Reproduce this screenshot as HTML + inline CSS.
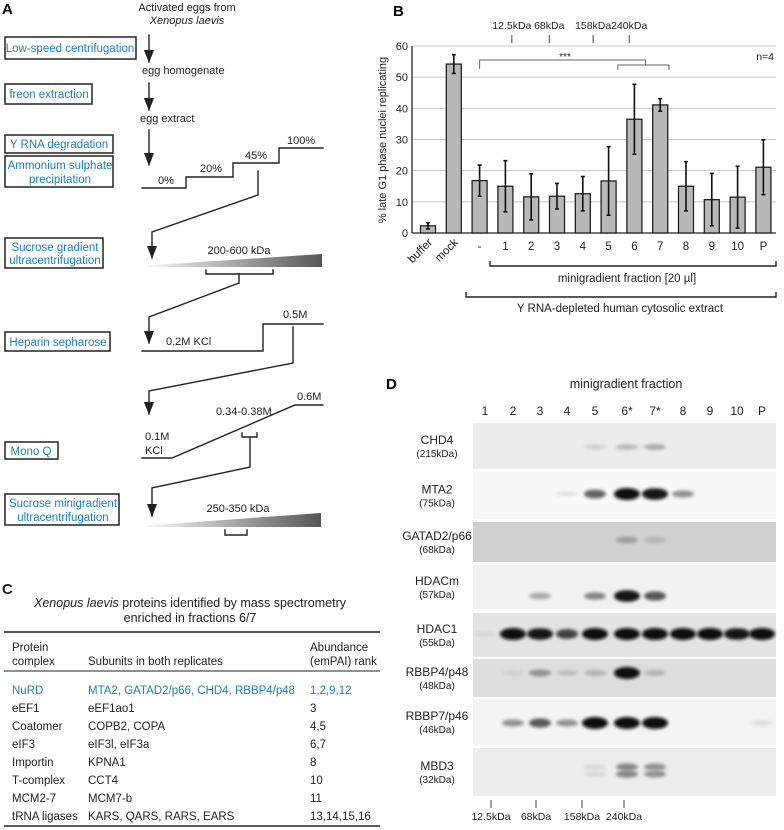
<!DOCTYPE html>
<html><head><meta charset="utf-8">
<style>
html,body{margin:0;padding:0;background:#fff}
svg{display:block;font-family:"Liberation Sans",Arial,sans-serif}
.bl{fill:#1b7ec2;font-size:11.5px}
.t{font-size:11px;fill:#222}
</style></head>
<body>
<svg id="fig" width="784" height="830" viewBox="0 0 784 830" xmlns="http://www.w3.org/2000/svg">
<defs>
<linearGradient id="grad" x1="0" x2="1" y1="0" y2="0"><stop offset="0" stop-color="#fff"/><stop offset="1" stop-color="#555"/></linearGradient>
<filter id="blur" x="-50%" y="-100%" width="200%" height="300%"><feGaussianBlur stdDeviation="1.6"/></filter>
<marker id="arr" markerWidth="14" markerHeight="10" refX="12" refY="5" orient="auto" markerUnits="userSpaceOnUse"><path d="M0,0 L13,5 L0,10 Z" fill="#222"/></marker>
</defs>

<!-- PANEL A -->
<g stroke-linecap="square">
<text x="2" y="14" font-size="15" font-weight="bold">A</text>
<text x="187" y="11" text-anchor="middle" class="t">Activated eggs from</text>
<text x="187" y="24" text-anchor="middle" class="t" font-style="italic">Xenopus laevis</text>
<g fill="#fff" stroke="#222" stroke-width="1.5">
<rect x="5" y="37" width="131" height="22"/>
<rect x="5" y="84" width="87" height="20"/>
<rect x="5" y="135" width="108" height="18"/>
<rect x="5" y="156" width="108" height="31"/>
<rect x="5" y="238" width="98" height="30"/>
<rect x="5" y="332" width="105" height="19"/>
<rect x="5" y="442" width="53" height="17"/>
<rect x="5" y="494" width="114" height="31"/>
</g>
<text x="70" y="52" text-anchor="middle" class="bl">Low-speed centrifugation</text>
<text x="49" y="98" text-anchor="middle" class="bl">freon extraction</text>
<text x="59" y="148" text-anchor="middle" class="bl">Y RNA degradation</text>
<text x="60" y="169" text-anchor="middle" class="bl">Ammonium sulphate</text>
<text x="60" y="183" text-anchor="middle" class="bl">precipitation</text>
<text x="55" y="251" text-anchor="middle" class="bl">Sucrose gradient</text>
<text x="55" y="264" text-anchor="middle" class="bl">ultracentrifugation</text>
<text x="58" y="346" text-anchor="middle" class="bl">Heparin sepharose</text>
<text x="31" y="455" text-anchor="middle" class="bl">Mono Q</text>
<text x="63" y="507" text-anchor="middle" class="bl">Sucrose minigradient</text>
<text x="63" y="521" text-anchor="middle" class="bl">ultracentrifugation</text>
<g stroke="#222" stroke-width="1.4" fill="none">
<line x1="149" y1="35" x2="149" y2="62" marker-end="url(#arr)"/>
<line x1="149" y1="83" x2="149" y2="110" marker-end="url(#arr)"/>
<line x1="149" y1="130" x2="149" y2="165" marker-end="url(#arr)"/>
<polyline points="142,188 186,188 186,177 233,177 233,163 279,163 279,148 323,148"/>
<polyline points="258,171 258,195 152,232 152,258" marker-end="url(#arr)"/>
<polyline points="206,270 206,274 273,274 273,270"/>
<polyline points="239,274 239,283 149,317 149,343" marker-end="url(#arr)"/>
<polyline points="142,351 263,351 263,324 323,324"/>
<polyline points="293,327 293,363 149,391 149,414" marker-end="url(#arr)"/>
<polyline points="142,458 172,458 295,405 323,405"/>
<polyline points="242,433 242,437 257,437 257,433"/>
<polyline points="250,437 250,467 152,488 152,516" marker-end="url(#arr)"/>
<polyline points="225,530 225,535 247,535 247,530"/>
</g>
<path d="M140,266 L322,254 L322,267 L140,267 Z" fill="url(#grad)"/>
<path d="M140,526 L321,513 L321,527 L140,527 Z" fill="url(#grad)"/>
<text x="142" y="74" class="t">egg homogenate</text>
<text x="140" y="122" class="t">egg extract</text>
<text x="158" y="184" class="t">0%</text>
<text x="200" y="172" class="t">20%</text>
<text x="245" y="159" class="t">45%</text>
<text x="287" y="144" class="t">100%</text>
<text x="239" y="254" text-anchor="middle" class="t">200-600 kDa</text>
<text x="166" y="345" class="t">0.2M KCl</text>
<text x="283" y="318" class="t">0.5M</text>
<text x="145" y="440" class="t">0.1M</text>
<text x="145" y="454" class="t">KCl</text>
<text x="216" y="415" class="t">0.34-0.38M</text>
<text x="297" y="400" class="t">0.6M</text>
<text x="238" y="512" text-anchor="middle" class="t">250-350 kDa</text>
</g>

<!-- PANEL C -->
<g font-size="11.5" fill="#222">
<text x="2" y="594" font-size="15" font-weight="bold">C</text>
<text x="190" y="607" text-anchor="middle" font-size="12.5"><tspan font-style="italic">Xenopus laevis</tspan> proteins identified by mass spectrometry</text>
<text x="190" y="622" text-anchor="middle" font-size="12.5">enriched in fractions 6/7</text>
<line x1="4" y1="632" x2="380" y2="632" stroke="#222" stroke-width="1.5"/>
<line x1="4" y1="671" x2="380" y2="671" stroke="#222" stroke-width="1"/>
<line x1="4" y1="826" x2="380" y2="826" stroke="#222" stroke-width="1.5"/>
<text x="12" y="651">Protein</text><text x="12" y="665">complex</text>
<text x="88" y="665">Subunits in both replicates</text>
<text x="310" y="651">Abundance</text><text x="310" y="665">(emPAI) rank</text>
<g fill="#1b7ec2"><text x="12" y="694">NuRD</text><text x="88" y="694">MTA2, GATAD2/p66, CHD4, RBBP4/p48</text><text x="310" y="694">1,2,9,12</text></g>
<text x="12" y="712">eEF1</text><text x="88" y="712">eEF1ao1</text><text x="310" y="712">3</text>
<text x="12" y="730">Coatomer</text><text x="88" y="730">COPB2, COPA</text><text x="310" y="730">4,5</text>
<text x="12" y="748">eIF3</text><text x="88" y="748">eIF3l, eIF3a</text><text x="310" y="748">6,7</text>
<text x="12" y="766">Importin</text><text x="88" y="766">KPNA1</text><text x="310" y="766">8</text>
<text x="12" y="784">T-complex</text><text x="88" y="784">CCT4</text><text x="310" y="784">10</text>
<text x="12" y="802">MCM2-7</text><text x="88" y="802">MCM7-b</text><text x="310" y="802">11</text>
<text x="12" y="820">tRNA ligases</text><text x="88" y="820">KARS, QARS, RARS, EARS</text><text x="310" y="820">13,14,15,16</text>
</g>

<g id="panelB"></g>
<g id="panelD"></g>
</svg>
<script>
const categories = ["buffer","mock","-","1","2","3","4","5","6","7","8","9","10","P"];
const values = [2.3,54.2,16.8,15.0,11.6,11.8,12.6,16.7,36.5,41.1,15.0,10.7,11.5,21.1];
const errors = [1.0,3.0,5.0,8.2,7.4,4.1,5.5,11.0,11.2,2.0,7.9,8.4,9.9,8.8];
const yTicks = [0,10,20,30,40,50,60];
const kdaLabels = ["12.5kDa","68kDa","158kDa","240kDa"];
const kdaPos = [3.25,4.7,6.4,7.8];
const lanes = ["1","2","3","4","5","6*","7*","8","9","10","P"];
const proteins = ["CHD4","MTA2","GATAD2/p66","HDACm","HDAC1","RBBP4/p48","RBBP7/p46","MBD3"];
const weights = ["(215kDa)","(75kDa)","(68kDa)","(57kDa)","(55kDa)","(48kDa)","(46kDa)","(32kDa)"];
const bandCHD4 = [0,0,0,0,0.12,0.22,0.28,0,0,0,0];
const bandMTA2 = [0,0,0,0.05,0.6,1,0.95,0.4,0,0,0];
const bandGATAD2 = [0,0,0,0,0,0.35,0.25,0,0,0,0];
const bandHDACm = [0,0,0.3,0,0.45,0.95,0.65,0,0,0,0];
const bandHDAC1 = [0.1,1,0.95,0.75,1,1,1,1,1,0.95,1];
const bandRBBP4 = [0,0.12,0.4,0.2,0.25,1,0.25,0,0,0,0];
const bandRBBP7 = [0,0.4,0.65,0.4,1,1,1,0,0,0,0.08];
const bandMBD3 = [0,0,0,0,0.1,0.45,0.4,0,0,0,0];

const NS="http://www.w3.org/2000/svg";
function mk(parent, tag, attrs, txt){const e=document.createElementNS(NS,tag);for(const k in attrs)e.setAttribute(k,attrs[k]);if(txt!==undefined)e.textContent=txt;parent.appendChild(e);return e;}

// Panel B
const B=document.getElementById('panelB');
const y0=233,y60=46, yMin=0,yMax=60;
function yS(v){return y0-(v-yMin)/(yMax-yMin)*(y0-y60);}
const x0=428, dx=25.8;
function xS(i){return x0+i*dx;}
let t=mk(B,'text',{x:393,y:16,'font-size':15,'font-weight':'bold'},'B');


yTicks.forEach(v=>{
  const g=mk(B,'line',{x1:412,x2:776,y1:yS(v),y2:yS(v),stroke:v===0?'#222':'#c8c8c8','stroke-width':v===0?1.3:1});
  
  
  const l=mk(B,'text',{x:408,y:yS(v)+4,'text-anchor':'end','font-size':11,fill:'#222'},String(v));
  
  
});
let ax=mk(B,'line',{x1:412,x2:412,y1:y60,y2:y0,stroke:'#222','stroke-width':1.3});


let yt=mk(B,'text',{x:0,y:0,transform:'translate(386,140) rotate(-90)','text-anchor':'middle','font-size':11,fill:'#222'},'% late G1 phase nuclei replicating');


categories.forEach((c,i)=>{
  const x=xS(i), v=values[i], e=errors[i];
  const r=mk(B,'rect',{x:x-7.5,y:yS(v),width:15,height:yS(0)-yS(v),fill:'#b8b8b8',stroke:'#222','stroke-width':1.3});
  
  
  const eb=mk(B,'path',{d:`M${x},${yS(v+e)}V${yS(Math.max(0,v-e))}M${x-2},${yS(v+e)}H${x+2}M${x-2},${yS(Math.max(0,v-e))}H${x+2}`,stroke:'#111','stroke-width':1.6,fill:'none'});
  
  
  let lab;
  if(i<2){lab=mk(B,'text',{x:0,y:0,transform:`translate(${x+5},${y0+10}) rotate(-45)`,'text-anchor':'end','font-size':11.5,fill:'#222'},c);}
  else lab=mk(B,'text',{x:x,y:y0+17,'text-anchor':'middle','font-size':11.5,fill:'#222'},c);
  
  
});
kdaLabels.forEach((k,i)=>{
  const x=xS(kdaPos[i]);
  mk(B,'line',{x1:x,x2:x,y1:35,y2:43,stroke:'#444'});
  const l=mk(B,'text',{x:x,y:29,'text-anchor':'middle','font-size':10.5,fill:'#222'},k);
  
  
});
const sig=mk(B,'path',{d:`M${xS(2)},69V60H${xS(8.43)}V65M${xS(7.36)},70V65H${xS(9.34)}V70`,stroke:'#666',fill:'none'});


mk(B,'text',{x:565,y:60,'font-size':10,'text-anchor':'middle',fill:'#222'},'***');
let n4=mk(B,'text',{x:774,y:60,'font-size':10.5,'text-anchor':'end',fill:'#222'},'n=4');


let b1=mk(B,'path',{d:'M490,261V266H776V261',stroke:'#222','stroke-width':1.4,fill:'none'});


mk(B,'text',{x:627,y:282,'text-anchor':'middle','font-size':11.5,fill:'#222'},'minigradient fraction [20 µl]');
let b2=mk(B,'path',{d:'M466,292V297H776V292',stroke:'#222','stroke-width':1.4,fill:'none'});


mk(B,'text',{x:620,y:312,'text-anchor':'middle','font-size':11.5,fill:'#222'},'Y RNA-depleted human cytosolic extract');

// Panel D
const D=document.getElementById('panelD');
let dl=mk(D,'text',{x:386,y:389,'font-size':15,'font-weight':'bold'},'D');


mk(D,'text',{x:626,y:388,'text-anchor':'middle','font-size':12.5,fill:'#222'},'minigradient fraction');
const laneX=[485,513,540,567,595,627,655,683,710,737,762];
lanes.forEach((l,i)=>{
  const e=mk(D,'text',{x:laneX[i],y:415,'text-anchor':'middle','font-size':12,fill:'#222'},l);
  
  
});
const rowsTop=[423,472,522,565,613,659,699,748];
const rowsBot=[469,519,562,609,657,697,745,796];
const bg=['#ececec','#f8f8f8','#d0d0d0','#f2f2f2','#e4e4e4','#dedede','#f4f4f4','#ededed'];
const bandY=[447,494,540,596,634,673,723,767];
const bands=[bandCHD4,bandMTA2,bandGATAD2,bandHDACm,bandHDAC1,bandRBBP4,bandRBBP7,bandMBD3];
proteins.forEach((p,r)=>{
  const st=mk(D,'rect',{x:473,y:rowsTop[r],width:303,height:rowsBot[r]-rowsTop[r],fill:bg[r]});
  
  
  const cy=(rowsTop[r]+rowsBot[r])/2;
  mk(D,'text',{x:437,y:cy-2,'text-anchor':'middle','font-size':12,fill:'#222'},p);
  mk(D,'text',{x:437,y:cy+11,'text-anchor':'middle','font-size':10,fill:'#222'},weights[r]);
  bands[r].forEach((v,i)=>{
    if(v<=0)return;
    const w=v>0.9?13:11;
    const c=Math.round(235-v*225);
    const ys = r===7?[bandY[r],bandY[r]+7]:[bandY[r]];
    ys.forEach(yy=>{
      const b=mk(D,'ellipse',{cx:laneX[i],cy:yy,rx:w,ry:2+v*4,fill:`rgb(${c},${c},${c})`,filter:'url(#blur)'});
      
      
    });
  });
});
const dk=[[491,'12.5kDa'],[536,'68kDa'],[582,'158kDa'],[624,'240kDa']];
dk.forEach(([x,l],i)=>{
  mk(D,'line',{x1:x,x2:x,y1:800,y2:808,stroke:'#444'});
  const e=mk(D,'text',{x:x,y:820,'text-anchor':'middle','font-size':10.5,fill:'#222'},l);
  
  
});
</script>
</body></html>
